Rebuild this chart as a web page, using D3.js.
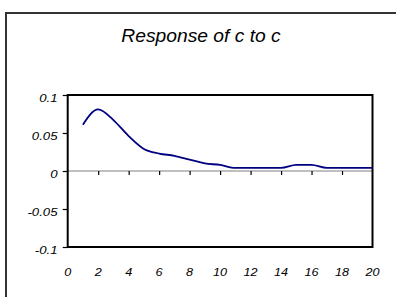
<!DOCTYPE html>
<html><head><meta charset="utf-8">
<script src="https://cdn.jsdelivr.net/npm/d3@7"></script>
<style>html,body{margin:0;padding:0;background:#fff;overflow:hidden}</style>
</head><body>
<script>
const title = "Response of c to c";
const periods = d3.range(1, 21);
const response = [0.061, 0.081, 0.067, 0.046, 0.029, 0.023, 0.020, 0.015, 0.010, 0.008,
                  0.004, 0.004, 0.004, 0.004, 0.008, 0.008, 0.004, 0.004, 0.004, 0.004];
const xTicks = [0, 2, 4, 6, 8, 10, 12, 14, 16, 18, 20];
const yTicks = [-0.1, -0.05, 0, 0.05, 0.1];
const yTickLabels = ["-0.1", "-0.05", "0", "0.05", "0.1"];

const W = 396, H = 297;
const svg = d3.select("body").append("svg").attr("width", W).attr("height", H);
svg.append("rect").attr("width", W).attr("height", H).attr("fill", "#fff");

// outer frame (cut off on right and bottom)
svg.append("path").attr("d", "M6,310 L6,13 L410,13")
  .attr("fill", "none").attr("stroke", "#333").attr("stroke-width", 2);

const x = d3.scaleLinear().domain([0, 20]).range([67.7, 372.5]);
const y = d3.scaleLinear().domain([-0.1, 0.1]).range([247, 95]);

const font = "'Liberation Sans', Arial, sans-serif";

// title
svg.append("text")
  .attr("transform", "translate(201,42) scale(1.1,1)")
  .attr("text-anchor", "middle")
  .attr("font-family", font).attr("font-style", "italic").attr("font-size", 17.5)
  .attr("fill", "#000").text(title);

// y-axis ticks
const yAxis = d3.axisLeft(y).tickValues(yTicks).tickSize(5).tickFormat("");
const gy = svg.append("g").attr("transform", `translate(${x(0)},0)`).call(yAxis);
gy.select(".domain").remove();
gy.selectAll(".tick line").attr("stroke", "#000").attr("stroke-width", 1.2);

// y labels
yTicks.forEach((v, i) => {
  svg.append("text")
    .attr("transform", `translate(57.5,${y(v) + 7}) scale(1.2,1)`)
    .attr("text-anchor", "end")
    .attr("font-family", font).attr("font-style", "italic").attr("font-size", 11)
    .attr("fill", "#000").text(yTickLabels[i]);
});

// zero line with x ticks
const xAxis = d3.axisBottom(x).tickValues(xTicks.filter(v => v > 0 && v < 20)).tickSize(4).tickFormat("");
const gx = svg.append("g").attr("transform", `translate(0,${y(0)})`).call(xAxis);
gx.select(".domain").attr("stroke", "#808080").attr("stroke-width", 1.2).attr("d", `M${x(0)},0H${x(20)}`);
gx.selectAll(".tick line").attr("stroke", "#000").attr("stroke-width", 1.2);

// x labels
xTicks.forEach(v => {
  svg.append("text")
    .attr("transform", `translate(${x(v)},276) scale(1.15,1)`)
    .attr("text-anchor", "middle")
    .attr("font-family", font).attr("font-style", "italic").attr("font-size", 11)
    .attr("fill", "#000").text(v);
});

// plot frame
svg.append("rect")
  .attr("x", x(0)).attr("y", y(0.1))
  .attr("width", x(20) - x(0)).attr("height", y(-0.1) - y(0.1))
  .attr("fill", "none").attr("stroke", "#000").attr("stroke-width", 2);

// response line
const line = d3.line().x((d, i) => x(periods[i])).y(d => y(d)).curve(d3.curveMonotoneX);
svg.append("path").datum(response).attr("d", line)
  .attr("fill", "none").attr("stroke", "#000080").attr("stroke-width", 1.8);
</script>
</body></html>
